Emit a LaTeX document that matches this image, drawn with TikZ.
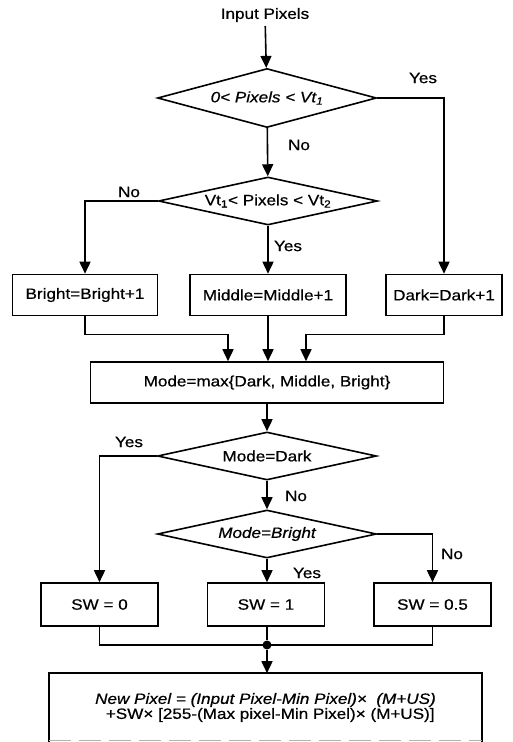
\documentclass[tikz,border=0pt]{standalone}
\usepackage{fontspec}
\setmainfont[FakeStretch=1.14,FakeBold=0.6]{Liberation Sans}
\usetikzlibrary{arrows.meta,shapes.geometric,calc}

\begin{document}
\begin{tikzpicture}[x=1pt,y=-1pt,line width=1.6pt,
  font=\fontsize{15}{15}\selectfont,
  >={Triangle[length=12pt,width=11pt]},
  box/.style={draw,rectangle,inner sep=0pt,minimum height=41pt},
  decision/.style={draw,diamond,aspect=4.5,inner sep=0pt,minimum width=219pt,minimum height=48pt}]
\useasboundingbox (0,0) rectangle (512,742);

% decisions on the input pixels
\node (input) at (265,15) {Input Pixels};
\node[decision,minimum height=59pt] (range1) at (267,98) {\itshape 0< Pixels < Vt\textsubscript{1}};
\node[decision] (range2) at (268,201) {Vt\textsubscript{1}< Pixels < Vt\textsubscript{2}};

\node[box,minimum width=145pt] (bright) at (85,295) {Bright=Bright+1};
\node[box,minimum width=156pt] (middle) at (268,295) {Middle=Middle+1};
\node[box,minimum width=116pt] (dark) at (444,295) {Dark=Dark+1};
\node[box,minimum width=353pt] (mode) at (267,382.5) {Mode=max\{Dark, Middle, Bright\}};

\draw[->] (input) -- (range1);
\draw[->] (range1) -- (range2);
\draw[->] (range1.east) -| (dark.north);
\draw[->] (range2.west) -| (bright.north);
\draw[->] (range2) -- (middle);

\node (no1) at (299,145) {No};
\node (yes1) at (423,78) {Yes};
\node (no2) at (129,192) {No};
\node (yes2) at (288,246) {Yes};

\draw[->] (bright.south) -- ++(0,18) -| ($(mode.north)+(-39,0)$);
\draw[->] (middle) -- (middle |- mode.north);
\draw[->] (dark.south) -- ++(0,18) -| ($(mode.north)+(39,0)$);

% choice of SW
\node[decision] (isdark) at (267,456) {Mode=Dark};
\node[decision] (isbright) at (267,534) {\itshape Mode=Bright};

\node[box,minimum width=117pt,minimum height=43pt] (swzero) at (99.5,604.5) {SW = 0};
\node[box,minimum width=117pt,minimum height=43pt] (swone) at (266,604.5) {SW = 1};
\node[box,minimum width=117pt,minimum height=43pt] (swhalf) at (432.5,604.5) {SW = 0.5};

\draw[->] (mode) -- (isdark);
\draw[->] (isdark.west) -| (swzero.north);
\draw[->] (isdark) -- (isbright);
\draw[->] (isbright.east) -| (swhalf.north);
\draw[->] (isbright.south) -- (isbright.south |- swone.north);

\node (yes3) at (129,442) {Yes};
\node (no3) at (296,496) {No};
\node (no4) at (452,554) {No};
\node (yes4) at (307,573) {Yes};

% output pixel
\node[circle,fill,inner sep=0pt,minimum size=9pt] (joint) at (267,645) {};
\node[rectangle,inner sep=0pt,minimum width=431pt,minimum height=67pt,align=center] (newpix) at (265.5,707.5)
  {\itshape New Pixel = (Input Pixel-Min Pixel)\texttimes\ \ (M+US)\\
   \ \ +SW\texttimes\ [255-(Max pixel-Min Pixel)\texttimes\ (M+US)]};

\draw (swzero.south) |- (joint.center) -| (swhalf.south);
\draw (swone.south -| joint) -- (joint);
\draw[->] (joint) -- (newpix.north -| joint);
\draw (newpix.south west) |- (newpix.north east) -- (newpix.south east);
\draw[gray!60,line width=1pt,dash pattern=on 22pt off 8pt] ($(newpix.south west)+(0,-1)$) -- ($(newpix.south east)+(0,-1)$);
\end{tikzpicture}
\end{document}
